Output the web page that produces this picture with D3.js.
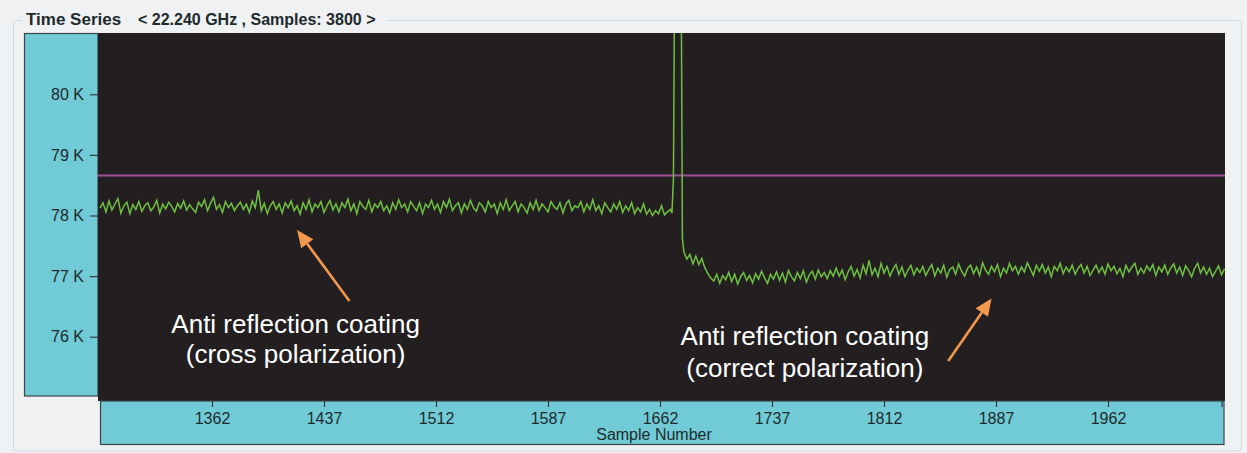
<!DOCTYPE html>
<html>
<head>
<meta charset="utf-8">
<script src="https://cdnjs.cloudflare.com/ajax/libs/d3/7.8.5/d3.min.js"></script>
<style>
  body { margin: 0; background: #f0f1f3; }
  svg { display: block; font-family: "Liberation Sans", Arial, sans-serif; }
</style>
</head>
<body>
<div id="chart"></div>
<script>
// values (kelvin)
const crossPolStart = 1287;   // first sample shown
const sampleStep = 2;
const crossPolValues = [
  78.12,78.21,78.06,78.24,78.09,78.19,78.28,78.04,78.16,78.22,78.03,78.18,78.10,78.23,78.07,78.16,
  78.21,78.08,78.14,78.25,78.04,78.19,78.11,78.22,78.15,78.06,78.20,78.12,78.24,78.09,78.18,78.11,
  78.05,78.22,78.15,78.26,78.08,78.20,78.30,78.10,78.18,78.05,78.23,78.13,78.20,78.08,78.16,78.22,
  78.10,78.19,78.05,78.24,78.13,78.42,78.08,78.20,78.03,78.16,78.23,78.10,78.19,78.04,78.21,78.13,
  78.24,78.08,78.16,78.02,78.21,78.10,78.26,78.06,78.19,78.13,78.23,78.05,78.16,78.25,78.09,78.19,
  78.06,78.21,78.13,78.27,78.08,78.19,78.03,78.23,78.15,78.10,78.25,78.06,78.19,78.13,78.23,78.08,
  78.16,78.04,78.21,78.10,78.26,78.13,78.19,78.06,78.23,78.15,78.08,78.21,78.03,78.19,78.13,78.25,
  78.10,78.19,78.05,78.23,78.13,78.27,78.08,78.16,78.21,78.04,78.19,78.10,78.25,78.13,78.07,78.21,
  78.16,78.06,78.23,78.13,78.19,78.03,78.21,78.10,78.26,78.08,78.16,78.23,78.06,78.19,78.13,78.04,
  78.21,78.10,78.25,78.08,78.19,78.13,78.06,78.23,78.15,78.10,78.21,78.04,78.19,78.25,78.08,78.16,
  78.13,78.23,78.06,78.19,78.10,78.26,78.08,78.16,78.03,78.21,78.13,78.06,78.19,78.10,78.23,78.05,
  78.16,78.08,78.21,78.03,78.13,78.06,78.19,78.02,78.10,78.00,78.08,78.03,78.16,78.01,78.06,78.10
];
// the jump when the polarization is switched (goes off the top)
const spikeSamples = [1670, 1671, 1672, 1676, 1677];
const spikeValues  = [78.04, 78.60, 83.0, 83.0, 77.62];

const correctPolStart = 1678;
const correctPolValues = [
  77.40,77.28,77.36,77.20,77.33,77.19,77.29,77.14,77.04,76.97,76.92,77.03,76.88,77.01,76.94,77.06,
  76.91,77.03,76.87,76.99,77.06,76.93,77.01,76.89,77.04,76.95,77.08,76.97,76.88,77.03,76.95,77.07,
  76.93,77.05,76.90,77.09,76.99,76.92,77.06,76.96,77.09,76.90,77.02,77.08,76.95,77.10,76.99,77.06,
  76.96,77.09,77.00,77.13,77.00,77.10,76.94,77.07,77.16,77.00,77.11,76.97,77.18,77.04,77.26,77.02,
  77.13,76.99,77.21,77.05,77.16,77.00,77.11,77.19,77.03,77.15,76.99,77.10,77.18,77.02,77.13,77.06,
  77.16,77.01,77.11,77.19,77.00,77.13,77.05,77.18,76.98,77.11,77.15,77.03,77.20,77.08,77.00,77.13,
  77.18,77.04,77.15,77.01,77.22,77.10,77.03,77.16,77.07,77.19,76.99,77.13,77.05,77.21,77.09,77.16,
  77.03,77.15,77.07,77.22,77.12,77.01,77.18,77.08,77.19,77.05,77.15,76.99,77.16,77.09,77.21,77.04,
  77.15,77.07,77.18,77.03,77.13,77.19,77.05,77.16,77.01,77.10,77.18,77.06,77.15,77.03,77.20,77.09,
  77.16,77.04,77.13,76.99,77.18,77.07,77.15,77.21,77.03,77.13,77.05,77.17,77.09,77.19,77.01,77.15,
  77.07,77.18,77.03,77.13,77.20,77.05,77.15,77.01,77.17,77.09,76.99,77.13,77.21,77.05,77.15,77.03,
  77.13,76.99,77.08,77.17,77.02,77.12
];

const thresholdValue = 78.66;   // magenta marker line
const xDomain = [1287, 2038];
const yDomain = [75, 81];
const xTicks = [1362, 1437, 1512, 1587, 1662, 1737, 1812, 1887, 1962];
const xEndTick = 2038;
const yTicks = [76, 77, 78, 79, 80];

const titleMain = "Time Series";
const titleInfo = "< 22.240 GHz , Samples: 3800 >";
const xLabel = "Sample Number";
const xLabelAt = 1658;

// annotations, placed in data units
const notes = [
  {lines: ["Anti reflection coating", "(cross polarization)"], sample: 1418, value: 76.06, gap: 30,
   tail: [1454, 76.59], tip: [1419, 77.76]},
  {lines: ["Anti reflection coating", "(correct polarization)"], sample: 1759, value: 75.87, gap: 32,
   tail: [1855, 75.60], tip: [1884, 76.63]}
];

document.addEventListener('DOMContentLoaded', function() {
    const W = 1247, H = 453;
    const plot = {left: 98, right: 1225, top: 33, bottom: 401};
    const colors = {
        bg: "#f0f1f3",
        frame: "#cfd9e4",
        panel: "#70cbd6",
        panelEdge: "#3d4345",
        plot: "#231f20",
        trace: "#6fc041",
        marker: "#a0509a",
        arrow: "#f3994d",
        text: "#1d2a2c"
    };

    const svg = d3.select("#chart")
                  .append("svg")
                  .attr("width", W)
                  .attr("height", H);

    svg.append("rect").attr("width", W).attr("height", H).attr("fill", colors.bg);

    // group box + title
    svg.append("rect")
       .attr("x", 13.5).attr("y", 20.5)
       .attr("width", 1228).attr("height", 430.5)
       .attr("rx", 3)
       .attr("fill", "none")
       .attr("stroke", colors.frame);
    svg.append("rect")
       .attr("x", 22).attr("y", 10).attr("width", 366).attr("height", 18)
       .attr("fill", colors.bg);
    svg.append("text")
       .attr("x", 26).attr("y", 25)
       .style("font-size", "17px").style("font-weight", "bold")
       .attr("fill", colors.text)
       .text(titleMain);
    svg.append("text")
       .attr("x", 138).attr("y", 25)
       .style("font-size", "16px").style("font-weight", "bold")
       .attr("fill", colors.text)
       .text(titleInfo);

    // scales
    const x = d3.scaleLinear().domain(xDomain).range([100, 1221.5]);
    const y = d3.scaleLinear().domain(yDomain).range([397.3, 33.7]);

    // panels
    svg.append("rect")
       .attr("x", 24.5).attr("y", 33.5)
       .attr("width", plot.left - 24.5).attr("height", 362.5)
       .attr("fill", colors.panel)
       .attr("stroke", colors.panelEdge).attr("stroke-width", 1.2);
    svg.append("rect")
       .attr("x", plot.left).attr("y", plot.top)
       .attr("width", plot.right - plot.left).attr("height", plot.bottom - plot.top)
       .attr("fill", colors.plot);
    svg.append("rect")
       .attr("x", 100.5).attr("y", plot.bottom)
       .attr("width", 1123.5).attr("height", 43.5)
       .attr("fill", colors.panel)
       .attr("stroke", colors.panelEdge).attr("stroke-width", 1.2);

    // axes
    const yAxis = svg.append("g")
        .attr("transform", `translate(${plot.left},0)`)
        .call(d3.axisLeft(y)
                .tickValues(yTicks)
                .tickSize(8)
                .tickPadding(6)
                .tickFormat(d => d + " K"));
    yAxis.select(".domain").remove();

    const xAxis = svg.append("g")
        .attr("transform", `translate(0,${plot.bottom})`)
        .call(d3.axisBottom(x)
                .tickValues(xTicks.concat([xEndTick]))
                .tickSize(6)
                .tickPadding(6)
                .tickFormat(d => d === xEndTick ? "" : d));
    xAxis.select(".domain").remove();

    svg.selectAll(".tick line").attr("stroke", "#2f3a3c").attr("stroke-width", 1.2);
    svg.selectAll(".tick text")
       .attr("fill", colors.text)
       .style("font-size", "16px")
       .style("font-family", '"Liberation Sans", Arial, sans-serif');

    svg.append("text")
       .attr("x", x(xLabelAt)).attr("y", 440)
       .attr("text-anchor", "middle")
       .attr("fill", colors.text)
       .style("font-size", "16px")
       .text(xLabel);

    // clip for the trace
    svg.append("clipPath").attr("id", "plot-clip")
       .append("rect")
       .attr("x", plot.left).attr("y", plot.top)
       .attr("width", plot.right - plot.left).attr("height", plot.bottom - plot.top);

    // build series
    let series = [];
    crossPolValues.forEach((v, i) => series.push({sample: crossPolStart + i * sampleStep, value: v}));
    spikeSamples.forEach((s, i) => series.push({sample: s, value: spikeValues[i]}));
    correctPolValues.forEach((v, i) => series.push({sample: correctPolStart + i * sampleStep, value: v}));
    series.sort((a, b) => a.sample - b.sample);

    const line = d3.line()
                   .x(d => x(d.sample))
                   .y(d => y(d.value));

    const g = svg.append("g").attr("clip-path", "url(#plot-clip)");

    // threshold marker
    g.append("line")
     .attr("x1", plot.left).attr("x2", plot.right)
     .attr("y1", y(thresholdValue)).attr("y2", y(thresholdValue))
     .attr("stroke", colors.marker)
     .attr("stroke-width", 2);

    g.append("path")
     .datum(series)
     .attr("d", line)
     .attr("fill", "none")
     .attr("stroke", colors.trace)
     .attr("stroke-width", 1.5)
     .attr("stroke-linejoin", "miter");

    // annotations (arrows + white text)
    notes.forEach(n => {
        const x1 = x(n.tail[0]), y1 = y(n.tail[1]);
        const x2 = x(n.tip[0]), y2 = y(n.tip[1]);
        const ang = Math.atan2(y2 - y1, x2 - x1);
        const len = 17, half = 7.5;
        const bx = x2 - len * Math.cos(ang), by = y2 - len * Math.sin(ang);

        svg.append("line")
           .attr("x1", x1).attr("y1", y1)
           .attr("x2", bx).attr("y2", by)
           .attr("stroke", colors.arrow)
           .attr("stroke-width", 2.6);
        svg.append("path")
           .attr("d", `M${x2},${y2}L${bx + half * Math.sin(ang)},${by - half * Math.cos(ang)}L${bx - half * Math.sin(ang)},${by + half * Math.cos(ang)}Z`)
           .attr("fill", colors.arrow);

        n.lines.forEach((t, i) => {
            svg.append("text")
               .attr("x", x(n.sample))
               .attr("y", y(n.value) + i * n.gap)
               .attr("text-anchor", "middle")
               .attr("fill", "#ffffff")
               .style("font-size", "26px")
               .text(t);
        });
    });
});
</script>
</body>
</html>
